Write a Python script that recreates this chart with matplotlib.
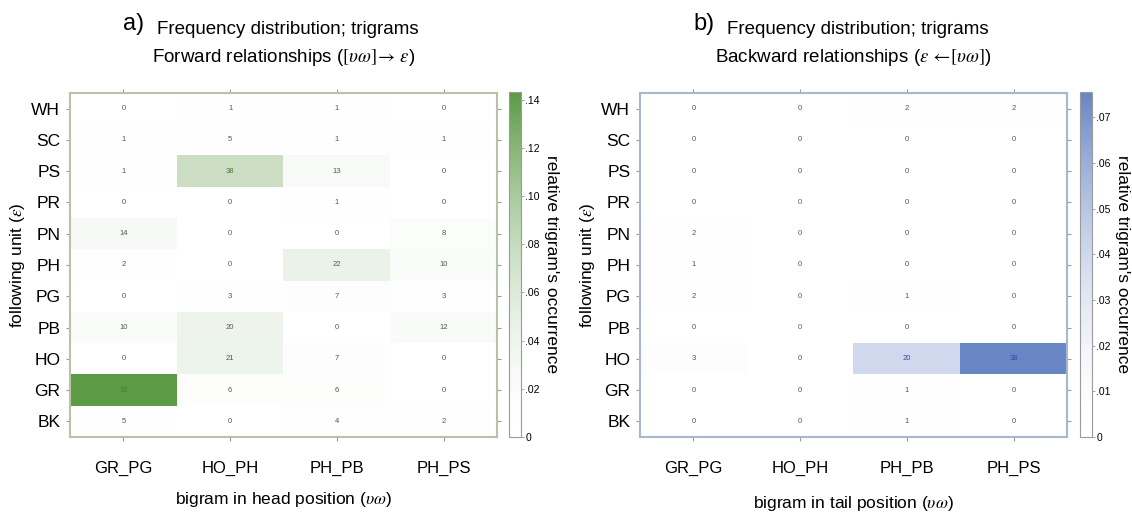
import numpy as np
import matplotlib
matplotlib.use("Agg")
import matplotlib.pyplot as plt
from matplotlib.colors import LinearSegmentedColormap, Normalize
from matplotlib.ticker import FuncFormatter

plt.rcParams['font.family'] = ['Liberation Sans', 'DejaVu Sans']
plt.rcParams['mathtext.fontset'] = 'stix'

rows = ['WH', 'SC', 'PS', 'PR', 'PN', 'PH', 'PG', 'PB', 'HO', 'GR', 'BK']
bigrams = ['GR_PG', 'HO_PH', 'PH_PB', 'PH_PS']
total_trigrams = 503

# counts, rows top to bottom, columns as in bigrams
forward_counts = [
    [0, 1, 1, 0],
    [1, 5, 1, 1],
    [1, 38, 13, 0],
    [0, 0, 1, 0],
    [14, 0, 0, 8],
    [2, 0, 22, 10],
    [0, 3, 7, 3],
    [10, 20, 0, 12],
    [0, 21, 7, 0],
    [72, 6, 6, 0],
    [5, 0, 4, 2],
]
backward_counts = [
    [0, 0, 2, 2],
    [0, 0, 0, 0],
    [0, 0, 0, 0],
    [0, 0, 0, 0],
    [2, 0, 0, 0],
    [1, 0, 0, 0],
    [2, 0, 1, 0],
    [0, 0, 0, 0],
    [3, 0, 20, 38],
    [0, 0, 1, 0],
    [0, 0, 1, 0],
]
forward_ticks = [0, .02, .04, .06, .08, .10, .12, .14]
backward_ticks = [0, .01, .02, .03, .04, .05, .06, .07]

W, H = 1132, 514
fig = plt.figure(figsize=(W / 100, H / 100), dpi=100)

def fmt(v, pos):
    return '0' if v == 0 else ('%.2f' % v).lstrip('0')

def panel(x0, cbx, counts, cmax_col, txt_col, spine_col, tag, line2, xlab, ticks, xly):
    ax = fig.add_axes([x0 / W, 1 - 437 / H, 427 / W, 344 / H])
    cax = fig.add_axes([cbx / W, 1 - 437 / H, 12 / W, 345 / H])
    counts = np.array(counts)
    frac = counts / total_trigrams
    cmap = LinearSegmentedColormap.from_list('c', ['#ffffff', cmax_col], gamma=1.8)
    norm = Normalize(0, frac.max())
    im = ax.imshow(frac, cmap=cmap, norm=norm, aspect='auto', interpolation='nearest')
    for i in range(counts.shape[0]):
        for j in range(counts.shape[1]):
            c = txt_col if frac[i, j] / frac.max() > 0.4 else '#555555'
            ax.text(j, i, str(counts[i, j]), ha='center', va='center', fontsize=5.5, color=c)
    ax.set_xticks(range(len(bigrams)))
    ax.set_xticklabels(bigrams, fontsize=12)
    ax.set_yticks(range(len(rows)))
    ax.set_yticklabels(rows, fontsize=12.5)
    ax.tick_params(top=True, right=True, direction='out', length=3, width=0.8,
                   color='#9a9a9a')
    ax.tick_params(axis='x', pad=14)
    ax.tick_params(axis='y', pad=4)
    for s in ax.spines.values():
        s.set_color(spine_col)
        s.set_linewidth(1.5)
    ax.set_xlabel(xlab, fontsize=12.5)
    ax.xaxis.set_label_coords(0.5, xly)
    ax.set_ylabel(r'following unit ($\varepsilon$)', fontsize=12.5, rotation=90)
    ax.yaxis.set_label_coords(-0.1, 0.5)

    cb = fig.colorbar(im, cax=cax, ticks=ticks, format=FuncFormatter(fmt))
    cb.outline.set_edgecolor('#9a9a9a')
    cb.outline.set_linewidth(0.8)
    cax.tick_params(length=2, width=0.6, color='#9a9a9a', labelsize=7.5, pad=1)
    cb.set_label("relative trigram's occurrence", rotation=270, fontsize=12.5, labelpad=14)

    xc = (x0 + 213.5) / W
    fig.text(xc + 0.004, 1 - 30 / H, 'Frequency distribution; trigrams', ha='center',
             va='center', fontsize=13.5)
    fig.text(xc, 1 - 58 / H, line2, ha='center', va='center', fontsize=13.5)
    fig.text((x0 + 53) / W, 1 - 24 / H, tag, ha='left', va='center', fontsize=17)

panel(70, 509, forward_counts, '#5c9a46', '#3f7f2e', '#b9c1a9', 'a)',
      r'Forward relationships ($[\upsilon\omega]\!\rightarrow\,\varepsilon$)',
      r'bigram in head position ($\upsilon\omega$)', forward_ticks, -0.155)
panel(640, 1080, backward_counts, '#6886c4', '#2f4fb0', '#a9b6cc', 'b)',
      r'Backward relationships ($\varepsilon\,\leftarrow\![\upsilon\omega]$)',
      r'bigram in tail position ($\upsilon\omega$)', backward_ticks, -0.165)

fig.savefig('out.png', dpi=100)
